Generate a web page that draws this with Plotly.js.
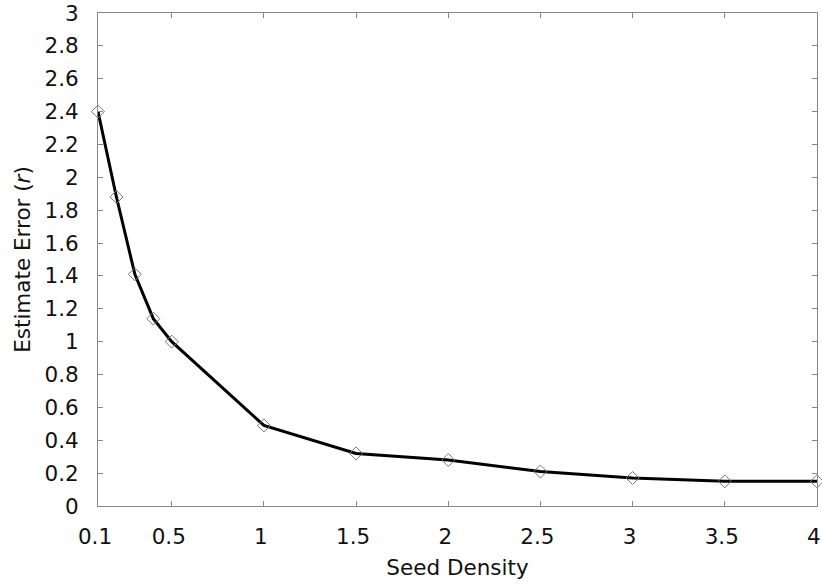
<!DOCTYPE html>
<html>
<head>
<meta charset="utf-8">
<script src="https://cdn.plot.ly/plotly-3.0.1.min.js"></script>
<style>html,body{margin:0;padding:0;background:#fff;}#chart{width:822px;height:584px;}</style>
</head>
<body>
<div id="chart"></div>
<script>
const seedDensity = [0.1, 0.2, 0.3, 0.4, 0.5, 1, 1.5, 2, 2.5, 3, 3.5, 4];
const estimateError = [2.40, 1.88, 1.41, 1.14, 1.00, 0.49, 0.32, 0.28, 0.21, 0.17, 0.15, 0.15];
const xTickVals = [0.1, 0.5, 1, 1.5, 2, 2.5, 3, 3.5, 4];
const xTickText = ['0.1', '0.5', '1', '1.5', '2', '2.5', '3', '3.5', '4'];
const yTickVals = [0, 0.2, 0.4, 0.6, 0.8, 1, 1.2, 1.4, 1.6, 1.8, 2, 2.2, 2.4, 2.6, 2.8, 3];
const yTickText = ['0', '0.2', '0.4', '0.6', '0.8', '1', '1.2', '1.4', '1.6', '1.8', '2', '2.2', '2.4', '2.6', '2.8', '3'];

const trace = {
  x: seedDensity,
  y: estimateError,
  type: 'scatter',
  mode: 'lines+markers',
  line: {color: '#000', width: 3},
  marker: {symbol: 'diamond-open', size: 10, color: '#777', line: {width: 1, color: '#777'}},
  cliponaxis: false,
  showlegend: false
};

const font = {family: 'DejaVu Sans, Liberation Sans, Arial, sans-serif', size: 21.5, color: '#111'};
const layout = {
  width: 822, height: 584,
  margin: {l: 98, r: 5, t: 13, b: 78},
  paper_bgcolor: '#fff', plot_bgcolor: '#fff',
  font: font,
  xaxis: {
    range: [0.1, 4.0005], tickvals: xTickVals, ticktext: xTickText,
    ticks: 'inside', ticklen: 5, tickcolor: '#888', tickwidth: 1,
    showline: true, linecolor: '#888', linewidth: 1, mirror: 'ticks',
    showgrid: false, zeroline: false,
    ticklabelstandoff: 11, ticklabelshift: -3, ticklabeloverflow: 'allow',
    title: {text: 'Seed Density', font: {family: font.family, size: 21.5, color: '#111'}, standoff: 12}
  },
  yaxis: {
    range: [0, 3], tickvals: yTickVals, ticktext: yTickText,
    ticks: 'inside', ticklen: 5, tickcolor: '#888', tickwidth: 1,
    showline: true, linecolor: '#888', linewidth: 1, mirror: 'ticks',
    showgrid: false, zeroline: false,
    ticklabelstandoff: 14,
    title: {text: 'Estimate Error (<i>r</i>)', font: {family: font.family, size: 21.5, color: '#111'}, standoff: 7}
  }
};

Plotly.newPlot('chart', [trace], layout, {displayModeBar: false, staticPlot: true});
</script>
</body>
</html>
